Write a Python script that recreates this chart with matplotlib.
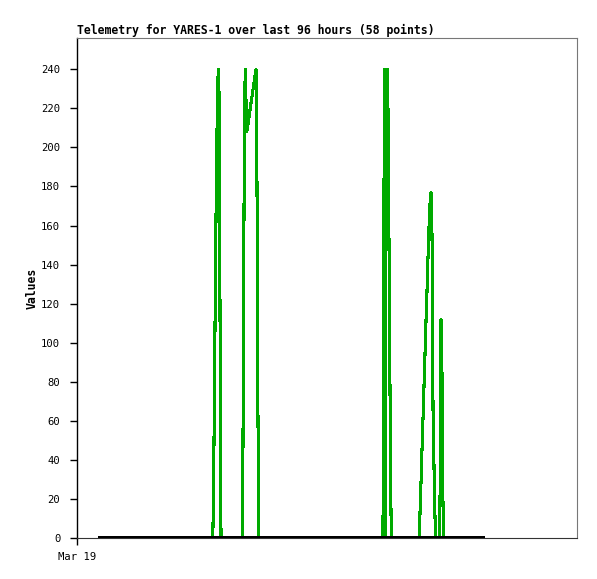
import matplotlib
matplotlib.use("Agg")
import matplotlib.pyplot as plt

# ---- data (hours since start of window, value) ----
hours = [0.00,
         28.27, 28.47, 28.67, 28.88, 29.10, 29.38, 29.63, 29.88, 30.10, 30.33,
         35.64, 35.82, 35.99, 36.17, 36.39, 36.80, 39.10, 39.35, 39.60, 39.83,
         55.00,
         70.93, 71.09, 71.29, 71.49, 71.74, 72.04, 72.24, 72.44, 72.64, 72.84, 73.02,
         79.96, 80.13, 80.36, 80.59, 80.81, 81.04, 81.26, 81.49, 81.71, 81.94, 82.16,
         82.39, 82.67, 82.97, 83.22, 83.47, 83.84, 84.09,
         85.10, 85.27, 85.47, 85.72, 85.92, 86.10,
         96.00]
values = [0,
          0, 25, 72, 121, 169, 217, 240, 225, 105, 0,
          0, 40, 121, 200, 240, 208, 240, 181, 60, 0,
          0,
          0, 121, 240, 0, 240, 240, 211, 150, 91, 30, 0,
          0, 8, 22, 37, 52, 66, 81, 96, 111, 125, 140,
          155, 170, 177, 155, 66, 22, 0,
          0, 28, 112, 84, 25, 0,
          0]
baseline_hours = [0.0, 96.0]
baseline_values = [0, 0]

title = "Telemetry for YARES-1 over last 96 hours (58 points)"
ylabel = "Values"
yticks = list(range(0, 241, 20))
xtick_labels = ["Mar 19"]

W, H = 597, 579
fig = plt.figure(figsize=(W / 100, H / 100), dpi=100)
ax = fig.add_axes([77 / W, (H - 538) / H, 500 / W, 500 / H])

mono = "DejaVu Sans Mono"

ax.plot(hours, values, color="#00aa00", lw=1.5, antialiased=False,
        solid_joinstyle="round", solid_capstyle="butt", zorder=2)
ax.plot(baseline_hours, baseline_values, color="black", lw=1.5,
        antialiased=False, zorder=3)

px_per_hour = 383 / 96.0
xmin = -23 / px_per_hour
xmax = xmin + 500 / px_per_hour
ax.set_xlim(xmin, xmax)
ax.set_ylim(0, 256)

ax.set_yticks(yticks)
ax.set_yticklabels([str(v) for v in yticks], fontfamily=mono, fontsize=7.6)
ax.set_xticks([xmin])
ax.set_xticklabels(xtick_labels, fontfamily=mono, fontsize=7.6)
ax.tick_params(axis="both", direction="out", length=5, width=1, color="black")
ax.tick_params(axis="y", pad=7)
ax.tick_params(axis="x", pad=5)

for s in ("top", "right"):
    ax.spines[s].set_color("#777777")
    ax.spines[s].set_linewidth(0.8)
ax.spines["left"].set_color("black")
ax.spines["left"].set_linewidth(1)
ax.spines["bottom"].set_color("#333333")
ax.spines["bottom"].set_linewidth(0.8)

ax.set_title(title, loc="left", fontfamily=mono, fontweight="bold",
             fontsize=8.3, pad=3)
ax.set_ylabel(ylabel, fontfamily=mono, fontweight="bold", fontsize=8.3,
              labelpad=2)

fig.savefig("out.png", dpi=100, facecolor="white")
